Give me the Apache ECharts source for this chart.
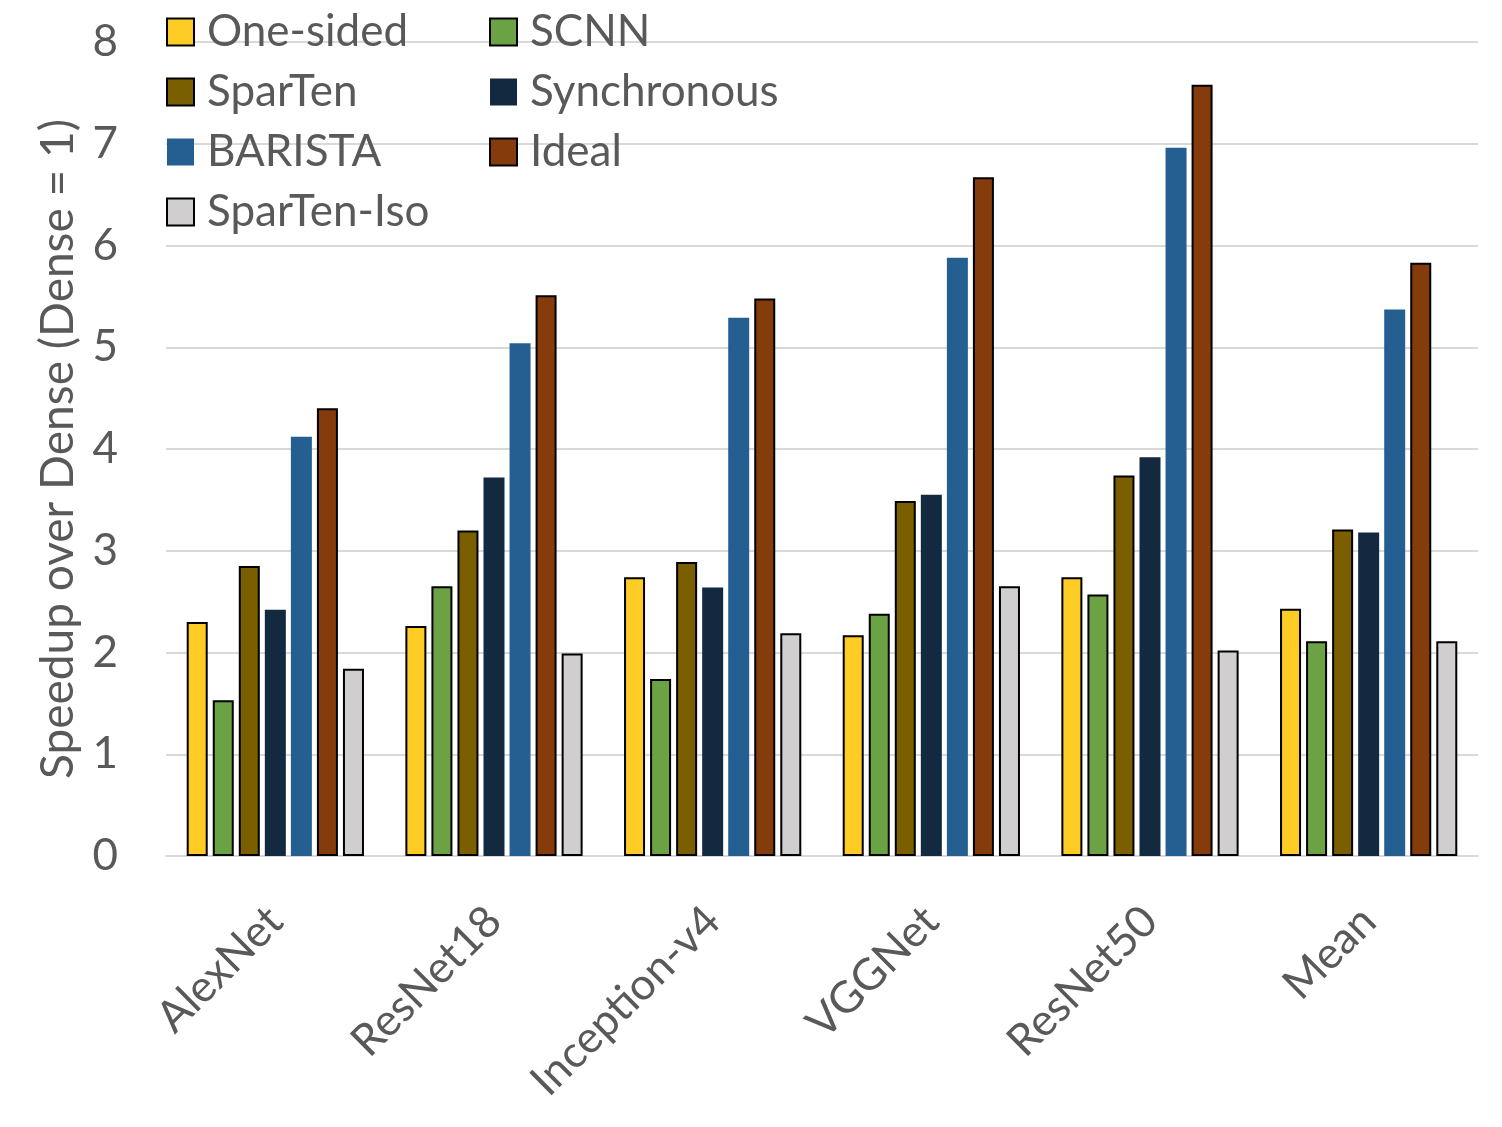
<!DOCTYPE html>
<html>
<head>
<meta charset="utf-8">
<script src="https://cdn.jsdelivr.net/npm/echarts@6/dist/echarts.min.js"></script>
<style>
html,body{margin:0;padding:0;background:#fff;}
#chart{width:1502px;height:1127px;}
</style>
</head>
<body>
<div id="chart"></div>
<script>
const categories = ['AlexNet', 'ResNet18', 'Inception-v4', 'VGGNet', 'ResNet50', 'Mean'];
const seriesNames = ['One-sided', 'SCNN', 'SparTen', 'Synchronous', 'BARISTA', 'Ideal', 'SparTen-Iso'];
const oneSided    = [2.30, 2.26, 2.74, 2.17, 2.74, 2.43];
const scnn        = [1.53, 2.65, 1.74, 2.38, 2.57, 2.11];
const sparTen     = [2.85, 3.20, 2.89, 3.49, 3.74, 3.21];
const synchronous = [2.42, 3.72, 2.64, 3.55, 3.92, 3.18];
const barista     = [4.12, 5.04, 5.29, 5.88, 6.96, 5.37];
const ideal       = [4.40, 5.51, 5.48, 6.67, 7.58, 5.83];
const sparTenIso  = [1.84, 1.99, 2.19, 2.65, 2.02, 2.11];
const yTicks = [0, 1, 2, 3, 4, 5, 6, 7, 8];

const values = [oneSided, scnn, sparTen, synchronous, barista, ideal, sparTenIso];
const colors = ['#FFCB25', '#6BA243', '#7A5E00', '#13293F', '#255F91', '#843C0C', '#D0CECE'];
const bordered = [true, true, true, false, false, true, true];

const FONT = 'Lato';
const TXT = '#595959';

const chart = echarts.init(document.getElementById('chart'));
const series = seriesNames.map((name, i) => ({
  name: name,
  type: 'bar',
  data: values[i],
  barWidth: 21,
  barGap: '24%',
  itemStyle: {
    color: colors[i],
    borderColor: bordered[i] ? '#000000' : colors[i],
    borderWidth: bordered[i] ? 2 : 0
  }
}));

const legendCommon = {
  orient: 'vertical',
  top: 10,
  padding: 0,
  itemWidth: 27,
  itemHeight: 27,
  itemGap: 16,
  textStyle: { fontFamily: FONT, fontSize: 44, color: TXT, lineHeight: 44, padding: [0, 0, 0, 8] },
  icon: 'rect'
};

chart.setOption({
  animation: false,
  backgroundColor: '#ffffff',
  legend: [
    Object.assign({}, legendCommon, { left: 166, data: ['One-sided', 'SparTen', 'BARISTA', 'SparTen-Iso'] }),
    Object.assign({}, legendCommon, { left: 489, data: ['SCNN', 'Synchronous', 'Ideal'] })
  ],
  grid: { left: 166, right: 24, top: 42, bottom: 271, containLabel: false },
  xAxis: {
    type: 'category',
    data: categories,
    axisLine: { lineStyle: { color: '#D9D9D9', width: 2 } },
    axisTick: { show: false },
    axisLabel: {
      rotate: 45,
      margin: 58,
      fontFamily: FONT,
      fontSize: 44,
      color: TXT,
      interval: 0
    }
  },
  yAxis: {
    type: 'value',
    min: yTicks[0],
    max: yTicks[yTicks.length - 1],
    interval: 1,
    name: 'Speedup over Dense (Dense = 1)',
    nameLocation: 'middle',
    nameGap: 82,
    nameTextStyle: { fontFamily: FONT, fontSize: 46, color: TXT },
    axisLine: { show: false },
    axisTick: { show: false },
    splitLine: { lineStyle: { color: '#D9D9D9', width: 2 } },
    axisLabel: { fontFamily: FONT, fontSize: 44, color: TXT, margin: 48 }
  },
  series: series
});
</script>
</body>
</html>
